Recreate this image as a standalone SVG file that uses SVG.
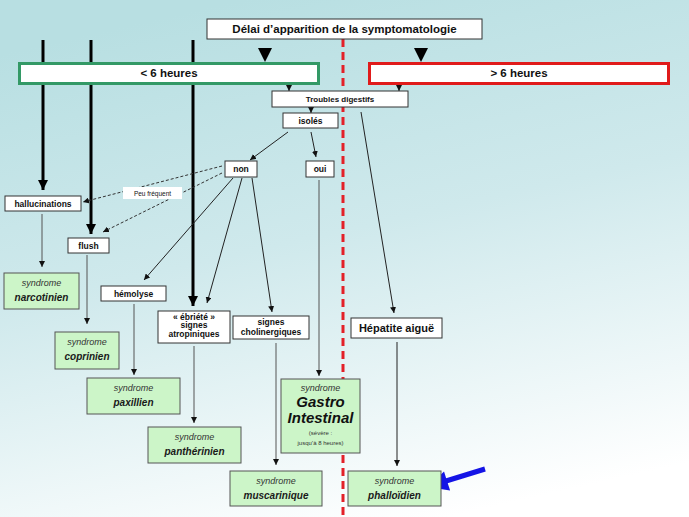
<svg xmlns="http://www.w3.org/2000/svg" width="689" height="517" viewBox="0 0 689 517">
<defs>
<linearGradient id="bg" x1="0.35" y1="0" x2="0.65" y2="1">
<stop offset="0" stop-color="#b8dfe2"/>
<stop offset="0.45" stop-color="#cfe9ec"/>
<stop offset="1" stop-color="#ffffff"/>
</linearGradient>
<marker id="a" viewBox="0 0 6 6" refX="6" refY="3" markerWidth="6" markerHeight="6" markerUnits="userSpaceOnUse" orient="auto"><path d="M0,0 L6,3 L0,6 z" fill="#111"/></marker>
<marker id="ab" viewBox="0 0 10 10" refX="10" refY="5" markerWidth="10" markerHeight="10" markerUnits="userSpaceOnUse" orient="auto"><path d="M0,0 L10,5 L0,10 z" fill="#000"/></marker>
</defs>
<style>
text{font-family:"Liberation Sans",Arial,sans-serif;fill:#111;text-anchor:middle}
.w{fill:#fff;stroke:#333;stroke-width:1}
.g{fill:#ccf5c8;stroke:#555;stroke-width:1}
.b{font-weight:bold;font-size:8.5px}
.s{font-style:italic;font-size:9px;fill:#333}
.n{font-style:italic;font-weight:bold;font-size:10px;fill:#1a1a1a}
.l{fill:none;stroke:#222;stroke-width:1;marker-end:url(#a)}
.lg{fill:none;stroke:#555;stroke-width:1;marker-end:url(#a)}
.d{fill:none;stroke:#333;stroke-width:1;stroke-dasharray:3 2;marker-end:url(#a)}
.t{fill:none;stroke:#000;stroke-width:3;marker-end:url(#ab)}
</style>
<rect width="689" height="517" fill="url(#bg)"/>
<g id="connectors">
<line x1="343" y1="39" x2="343" y2="517" stroke="#e32028" stroke-width="3" stroke-dasharray="8 5"/>
<line class="t" x1="43" y1="40" x2="43" y2="190"/>
<line class="t" x1="91" y1="40" x2="91" y2="234"/>
<line class="t" x1="193" y1="40" x2="193" y2="306"/>
<polygon points="258,48 272,48 265,62" fill="#000"/>
<polygon points="414,48 428,48 421,62" fill="#000"/>
<line class="l" x1="289" y1="84" x2="289" y2="91"/>
<line class="l" x1="399" y1="84" x2="399" y2="91"/>
<line class="l" x1="311" y1="106" x2="311" y2="113"/>
<line class="l" x1="288" y1="132" x2="250" y2="160"/>
<line class="l" x1="311" y1="132" x2="316" y2="157"/>
<line class="d" x1="222" y1="166" x2="83" y2="202"/>
<line class="d" x1="222" y1="173" x2="103" y2="232"/>
<rect x="123" y="187" width="59" height="12" fill="#fff"/>
<text x="152.5" y="195.5" style="font-size:6.5px">Peu fréquent</text>
<line class="l" x1="233" y1="178" x2="144" y2="280"/>
<line class="l" x1="242" y1="178" x2="207" y2="303"/>
<line class="l" x1="252" y1="178" x2="272" y2="312"/>
<line class="lg" x1="319" y1="180" x2="319" y2="376"/>
<line class="l" x1="361" y1="112" x2="394" y2="313"/>
<line class="lg" x1="42" y1="214" x2="42" y2="267"/>
<line class="lg" x1="87" y1="255" x2="87" y2="324"/>
<line class="lg" x1="134" y1="304" x2="134" y2="375"/>
<line class="lg" x1="194" y1="346" x2="194" y2="423"/>
<line class="lg" x1="276" y1="343" x2="276" y2="465"/>
<line class="l" x1="397" y1="342" x2="397" y2="466"/>
<line x1="485" y1="469" x2="446" y2="481" stroke="#1414e6" stroke-width="5"/>
<polygon points="428,487 450.1,490.5 444,471.5" fill="#1414e6"/>
</g>
<g id="title"><rect class="w" x="207" y="19" width="275" height="20" stroke="#555"/><text x="344.5" y="33" style="font-weight:bold;font-size:11.5px">Délai d’apparition de la symptomatologie</text></g>
<g id="lt6"><rect x="19.5" y="63.5" width="299" height="20" fill="#fff" stroke="#339966" stroke-width="3"/><text x="169" y="77" style="font-weight:bold;font-size:11.5px">&lt; 6 heures</text></g>
<g id="gt6"><rect x="369.5" y="63.5" width="299" height="20" fill="#fff" stroke="#e01b1b" stroke-width="3"/><text x="519" y="77" style="font-weight:bold;font-size:11.5px">&gt; 6 heures</text></g>
<g id="troubles"><rect class="w" x="272" y="91" width="136" height="16"/><text class="b" x="340" y="102" style="font-size:8px">Troubles digestifs</text></g>
<g id="isoles"><rect class="w" x="283" y="113" width="55" height="15"/><text class="b" x="310.5" y="123.5">isolés</text></g>
<g id="non"><rect class="w" x="225" y="161" width="32" height="16"/><text class="b" x="241" y="172">non</text></g>
<g id="oui"><rect class="w" x="306" y="161" width="28" height="16"/><text class="b" x="320" y="172">oui</text></g>
<g id="hallucinations"><rect class="w" x="5" y="196" width="76" height="15"/><text class="b" x="43" y="206.5">hallucinations</text></g>
<g id="flush"><rect class="w" x="68" y="238" width="41" height="15"/><text class="b" x="88.5" y="248.5">flush</text></g>
<g id="hemolyse"><rect class="w" x="101" y="286" width="65" height="15"/><text class="b" x="133.5" y="296.5">hémolyse</text></g>
<g id="ebriete"><rect class="w" x="158" y="311" width="72" height="32"/><text class="b" x="194" y="319.5">« ébriété »</text><text class="b" x="194" y="328">signes</text><text class="b" x="194" y="337">atropiniques</text></g>
<g id="cholinergiques"><rect class="w" x="233" y="316" width="76" height="23"/><text class="b" x="271" y="325">signes</text><text class="b" x="271" y="334.5">cholinergiques</text></g>
<g id="hepatite"><rect class="w" x="351" y="318" width="91" height="20"/><text x="396.5" y="331.5" style="font-weight:bold;font-size:11px">Hépatite aiguë</text></g>
<g id="narcotinien"><rect class="g" x="4" y="273" width="75" height="36"/><text class="s" x="41.5" y="286">syndrome</text><text class="n" x="41.5" y="301">narcotinien</text></g>
<g id="coprinien"><rect class="g" x="55" y="332" width="64" height="37"/><text class="s" x="87" y="345">syndrome</text><text class="n" x="87" y="360">coprinien</text></g>
<g id="paxillien"><rect class="g" x="87" y="378" width="93" height="36"/><text class="s" x="133.5" y="391">syndrome</text><text class="n" x="133.5" y="406">paxillien</text></g>
<g id="pantherinien"><rect class="g" x="148" y="427" width="93" height="36"/><text class="s" x="194.5" y="440">syndrome</text><text class="n" x="194.5" y="455">panthérinien</text></g>
<g id="muscarinique"><rect class="g" x="230" y="471" width="92" height="35"/><text class="s" x="276" y="484">syndrome</text><text class="n" x="276" y="499">muscarinique</text></g>
<g id="gastro"><rect class="g" x="281" y="379" width="79" height="74"/><text class="s" x="320.5" y="391">syndrome</text><text x="320.5" y="407" style="font-style:italic;font-weight:bold;font-size:15px">Gastro</text><text x="320.5" y="423" style="font-style:italic;font-weight:bold;font-size:15px">Intestinal</text><text x="320.5" y="435" style="font-size:6px;fill:#333">(sévère :</text><text x="320.5" y="445" style="font-size:6px;fill:#333">jusqu’à 8 heures)</text></g>
<g id="phalloidien"><rect class="g" x="348" y="471" width="93" height="35"/><text class="s" x="394.5" y="484">syndrome</text><text class="n" x="394.5" y="499">phalloïdien</text></g>
</svg>
